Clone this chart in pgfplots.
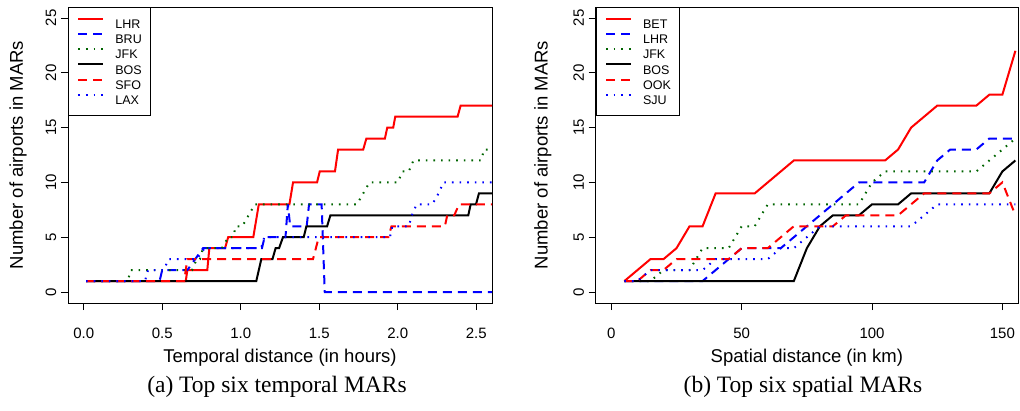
\documentclass[border=0pt]{standalone}
\usepackage{fontspec}
\setmainfont{Liberation Sans}
\newfontfamily\capfont{Liberation Serif}
\usepackage{pgfplots}
\usepackage{pgfplotstable}
\pgfplotsset{compat=1.18}

\definecolor{rred}{RGB}{255,0,0}
\definecolor{rblue}{RGB}{0,0,255}
\definecolor{rgreen}{RGB}{0,100,0}

% spatial MARs, sampled every 5 km
\pgfplotstableread{
d   BET LHR JFK BOS OOK SJU
5   1   1   1   1   1   1
10  2   1   1   1   1   1
15  3   1   1   1   2   2
20  3   1   2   1   2   2
25  4   1   2   1   3   2
30  6   1   2   1   3   2
35  6   1   4   1   3   2
40  9   2   4   1   3   3
45  9   3   4   1   3   3
50  9   4   6   1   4   3
55  9   4   6   1   4   3
60  10  4   8   1   4   3
65  11  4   8   1   5   4
70  12  5   8   1   6   4
75  12  6   8   4   6   5
80  12  7   8   6   6   6
85  12  8   8   7   6   6
90  12  9   8   7   7   6
95  12  10  8   7   7   6
100 12  10  10  8   7   6
105 12  10  11  8   7   6
110 13  10  11  8   7   6
115 15  10  11  9   8   6
120 16  10  11  9   9   7
125 17  12  11  9   9   8
130 17  13  11  9   9   8
135 17  13  11  9   9   8
140 17  13  11  9   9   8
145 18  14  12  9   9   8
150 18  14  13  11  10  8
155 22  14  14  12  7   8
}\spatial

\pgfplotsset{
  rplot/.style={
    scale only axis, height=296pt,
    ymin=-1, ymax=26, ytick={0,5,...,25},
    axis line style={line width=0.9pt},
    tick align=outside, xtick pos=left, ytick pos=left,
    major tick length=7pt,
    tick style={line width=0.9pt, black},
    /pgf/number format/assume math mode=true,
    ticklabel style={font=\fontsize{15}{18}\selectfont},
    xticklabel style={yshift=-14.6pt},
    yticklabel style={xshift=-1.2pt, rotate=90, anchor=south},
    label style={font=\fontsize{18.5}{22}\selectfont},
    xlabel style={at={(axis description cs:0.5,-0.184)}, anchor=center},
    ylabel = {Number of airports in MARs},
    legend style={at={(0,1)}, anchor=north west, draw=black, line width=0.8pt,
      font=\fontsize{12.5}{15}\selectfont, inner xsep=9pt, inner ysep=8.8pt,
      nodes={inner sep=0pt, text height=12pt, text depth=1.7pt},
      row sep=1.6pt, column sep=11pt},
    legend cell align=left,
    legend image code/.code={\draw[#1] (0pt,4.5pt) -- (25pt,4.5pt);},
  },
  lsolid/.style={line width=2pt, solid},
  ldash/.style={line width=2pt, dash pattern=on 9pt off 6pt},
  ldot/.style={line width=2pt, dash pattern=on 1.6pt off 6pt},
}

\begin{document}
\begin{tikzpicture}
\useasboundingbox (0,0) rectangle (1020pt,410pt);

\begin{axis}[rplot, at={(68pt,107pt)}, anchor=south west, width=424pt,
  xmin=-0.1, xmax=2.6, xtick={0,0.5,...,2.5},
  xticklabel style={/pgf/number format/.cd, fixed, fixed zerofill, precision=1},
  xlabel={Temporal distance (in hours)},
  ylabel style={at={(axis description cs:-0.118,0.5)}, anchor=center}]
\addplot[rred, lsolid] coordinates {
 (0.015,1) (0.65,1) (0.66,2) (0.787,2) (0.80,4) (0.90,4) (0.92,5) (1.08,5)
 (1.115,8) (1.31,8) (1.333,10) (1.486,10) (1.503,11) (1.60,11) (1.62,13)
 (1.78,13) (1.80,14) (1.918,14) (1.933,15) (1.971,15) (1.984,16) (2.381,16)
 (2.40,17) (2.62,17)};
\addlegendentry{LHR}
\addplot[rblue, ldash] coordinates {
 (0.015,1) (0.483,1) (0.50,2) (0.66,2) (0.76,4) (1.135,4) (1.152,5) (1.285,5)
 (1.30,8) (1.315,6) (1.42,6) (1.435,8) (1.515,8) (1.535,0) (2.62,0)};
\addlegendentry{BRU}
\addplot[rgreen, ldot] coordinates {
 (0.015,1) (0.28,1) (0.30,2) (0.69,2) (0.72,3) (0.74,3) (0.76,4) (0.88,4)
 (0.92,5) (0.95,5) (0.97,6) (1.01,6) (1.05,7) (1.09,8) (1.74,8) (1.78,9)
 (1.82,10) (2.0,10) (2.03,11) (2.07,11) (2.10,12) (2.53,12) (2.55,13) (2.62,13)};
\addlegendentry{JFK}
\addplot[black, lsolid] coordinates {
 (0.015,1) (1.099,1) (1.131,3) (1.202,3) (1.222,4) (1.244,4) (1.269,5)
 (1.401,5) (1.418,6) (1.550,6) (1.571,7) (2.449,7) (2.464,8) (2.498,8)
 (2.517,9) (2.62,9)};
\addlegendentry{BOS}
\addplot[rred, ldash] coordinates {
 (0.015,1) (0.64,1) (0.66,3) (1.46,3) (1.497,5) (1.94,5) (1.96,6) (2.30,6)
 (2.315,7) (2.36,7) (2.39,8) (2.62,8)};
\addlegendentry{SFO}
\addplot[rblue, ldot] coordinates {
 (0.015,1) (0.39,1) (0.41,2) (0.51,2) (0.54,3) (0.72,3) (0.77,4) (1.13,4)
 (1.15,5) (1.95,5) (1.965,6) (2.07,6) (2.09,7) (2.12,8) (2.22,8) (2.26,9)
 (2.29,10) (2.62,10)};
\addlegendentry{LAX}
\end{axis}

\begin{axis}[rplot, at={(595.7pt,107pt)}, anchor=south west, width=422.3pt,
  xmin=-6, xmax=156, xtick={0,50,100,150},
  xlabel={Spatial distance (in km)},
  ylabel style={at={(axis description cs:-0.125,0.5)}, anchor=center}]
\addplot[rred, lsolid] table[x=d, y=BET] {\spatial};
\addlegendentry{BET}
\addplot[rblue, ldash] table[x=d, y=LHR] {\spatial};
\addlegendentry{LHR}
\addplot[rgreen, ldot] table[x=d, y=JFK] {\spatial};
\addlegendentry{JFK}
\addplot[black, lsolid] table[x=d, y=BOS] {\spatial};
\addlegendentry{BOS}
\addplot[rred, ldash] table[x=d, y=OOK] {\spatial};
\addlegendentry{OOK}
\addplot[rblue, ldot] table[x=d, y=SJU] {\spatial};
\addlegendentry{SJU}
\end{axis}

\node[font=\capfont\fontsize{23.5}{28}\selectfont] at (277pt,23pt) {(a) Top six temporal MARs};
\node[font=\capfont\fontsize{23.5}{28}\selectfont] at (803pt,23pt) {(b) Top six spatial MARs};
\end{tikzpicture}
\end{document}
